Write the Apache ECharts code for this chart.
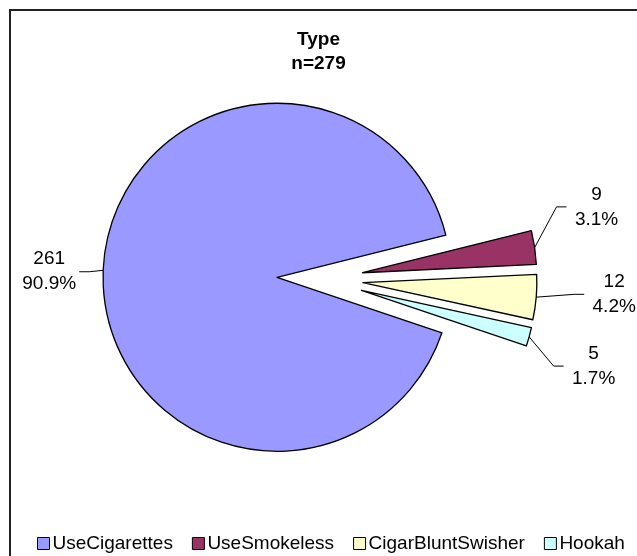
<!DOCTYPE html>
<html>
<head>
<meta charset="utf-8">
<script src="https://cdn.jsdelivr.net/npm/echarts@6/dist/echarts.min.js"></script>
<style>
  html, body { margin: 0; padding: 0; background: #fff; }
  #chart { width: 637px; height: 556px; }
</style>
</head>
<body>
<div id="chart"></div>
<script>
// Tobacco product type, counts per category
const categories = ['UseCigarettes', 'UseSmokeless', 'CigarBluntSwisher', 'Hookah'];
const counts = [261, 9, 12, 5];
const sampleSize = 279;

// Slice fills and nudges for the outside labels
const sliceColors = ['#9999FF', '#993366', '#FFFFCC', '#CCFFFF'];
const labelShiftX = [8, 0, 16, 3];
const labelShiftY = [2, -38.5, -4, 25.5];

const total = counts.reduce((a, b) => a + b, 0);
const fontFamily = '"Liberation Sans", Arial, sans-serif';
const labelWidth = 62;

const chart = echarts.init(document.getElementById('chart'), null, { renderer: 'canvas' });

// Move a label and redraw its leader: keep the point on the slice edge,
// then run to a short horizontal stub at the middle of the moved label.
function placeLabel(p) {
  const i = p.dataIndex;
  const dx = labelShiftX[i];
  const dy = labelShiftY[i];
  const r = p.labelRect;
  const start = p.labelLinePoints ? p.labelLinePoints[0] : null;
  const out = { dx, dy };
  if (start) {
    const yc = r.y + dy + r.height / 2;
    const onRight = r.x + r.width / 2 > start[0];
    const endX = onRight ? r.x + dx + 1 : r.x + dx + r.width - 1;
    const elbowX = onRight ? endX - 10 : endX + 10;
    out.labelLinePoints = [start, [elbowX, yc], [endX, yc]];
  }
  return out;
}

chart.setOption({
  backgroundColor: '#ffffff',
  animation: false,
  graphic: [{
    type: 'rect',
    shape: { x: 10, y: 10, width: 700, height: 700 },
    style: { fill: 'none', stroke: '#222', lineWidth: 2 },
    silent: true,
    z: -1
  }],
  title: {
    text: 'Type\nn=' + sampleSize,
    left: 'center',
    top: 23,
    textStyle: { fontFamily, fontSize: 19, fontWeight: 'bold', color: '#000', lineHeight: 24 }
  },
  legend: {
    top: 529,
    left: 32,
    itemWidth: 12,
    itemHeight: 12,
    itemGap: 19,
    icon: 'rect',
    itemStyle: { borderColor: '#000', borderWidth: 1 },
    textStyle: { fontFamily, fontSize: 19, color: '#000', padding: [0, 0, 0, -2] },
    data: categories
  },
  series: [{
    type: 'pie',
    center: [320, 279],
    radius: 174,
    startAngle: -18.6,
    clockwise: true,
    selectedMode: 'multiple',
    selectedOffset: 43,
    avoidLabelOverlap: false,
    itemStyle: { borderColor: '#000', borderWidth: 1.3 },
    emphasis: { disabled: true },
    label: {
      show: true,
      position: 'outside',
      color: '#000',
      formatter: p => '{t|' + p.value + '}\n{t|' + (p.value / total * 100).toFixed(1) + '%}',
      rich: { t: { fontFamily, fontSize: 19, lineHeight: 25, width: labelWidth, align: 'center', color: '#000' } }
    },
    labelLine: { show: true, length: 14, length2: 12, lineStyle: { color: '#000', width: 1 } },
    labelLayout: placeLabel,
    data: categories.map((name, i) => ({
      name,
      value: counts[i],
      selected: true,
      itemStyle: { color: sliceColors[i] }
    }))
  }]
});
</script>
</body>
</html>
